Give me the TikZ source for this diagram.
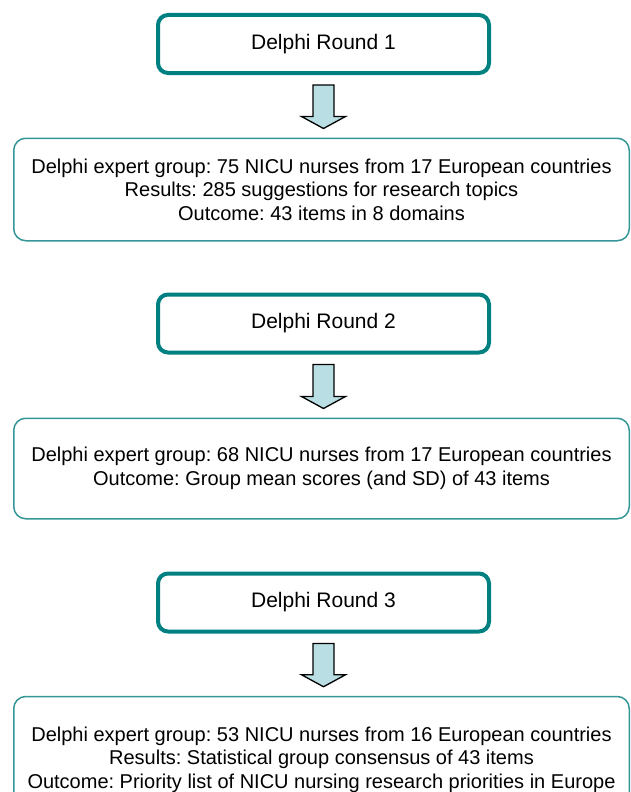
\documentclass[tikz,border=0pt]{standalone}
\usepackage{fontspec}
\setmainfont{Liberation Sans}
\frenchspacing
\usetikzlibrary{calc}
\definecolor{roundteal}{RGB}{0,128,128}
\definecolor{boxteal}{RGB}{52,150,150}
\definecolor{arrowblue}{RGB}{185,222,227}
\tikzset{
  roundbox/.style={draw=roundteal, line width=4pt, rounded corners=10pt,
    minimum width=331pt, minimum height=58pt, inner sep=0pt,
    font=\fontsize{21}{25}\selectfont},
  infobox/.style={draw=boxteal, line width=1.5pt, rounded corners=12pt,
    minimum width=615.5pt, inner sep=0pt, align=center},
  blockarrow/.style={draw=black, line width=1.3pt, fill=arrowblue, line join=miter}
}
\begin{document}
\begin{tikzpicture}[x=1pt, y=-1pt, font=\fontsize{20}{23.5}\selectfont]
  \clip (0,0) rectangle (631,792);
  \node[roundbox] (r1) at (323.5,44) {Delphi Round 1};
  \node[infobox, minimum height=102.5pt] (b1) at (321.5,189.5)
    {Delphi expert group: 75 NICU nurses from 17 European countries\\
     Results: 285 suggestions for research topics\\
     Outcome: 43 items in 8 domains};
  \node[roundbox] (r2) at (323.5,323.5) {Delphi Round 2};
  \node[infobox, minimum height=100.5pt] (b2) at (321.5,468.5)
    {Delphi expert group: 68 NICU nurses from 17 European countries\\
     Outcome: Group mean scores (and SD) of 43 items};
  \node[roundbox] (r3) at (323.5,602.5) {Delphi Round 3};
  \node[infobox, minimum height=126pt] (b3) at (321.5,759.5)
    {Delphi expert group: 53 NICU nurses from 16 European countries\\
     Results: Statistical group consensus of 43 items\\
     Outcome: Priority list of NICU nursing research priorities in Europe};
  % block arrows between the rounds and their results
  \foreach \i in {1,2,3}{
    \coordinate (tip\i) at ($(r\i.south |- b\i.north)+(0,-9)$);
    \draw[blockarrow] ($(r\i.south)+(-10.5,10)$) -- ($(r\i.south)+(10.5,10)$)
      -- ($(tip\i)+(10.5,-12)$) -- ($(tip\i)+(22,-12)$) -- (tip\i)
      -- ($(tip\i)+(-22,-12)$) -- ($(tip\i)+(-10.5,-12)$) -- cycle;
  }
\end{tikzpicture}
\end{document}
